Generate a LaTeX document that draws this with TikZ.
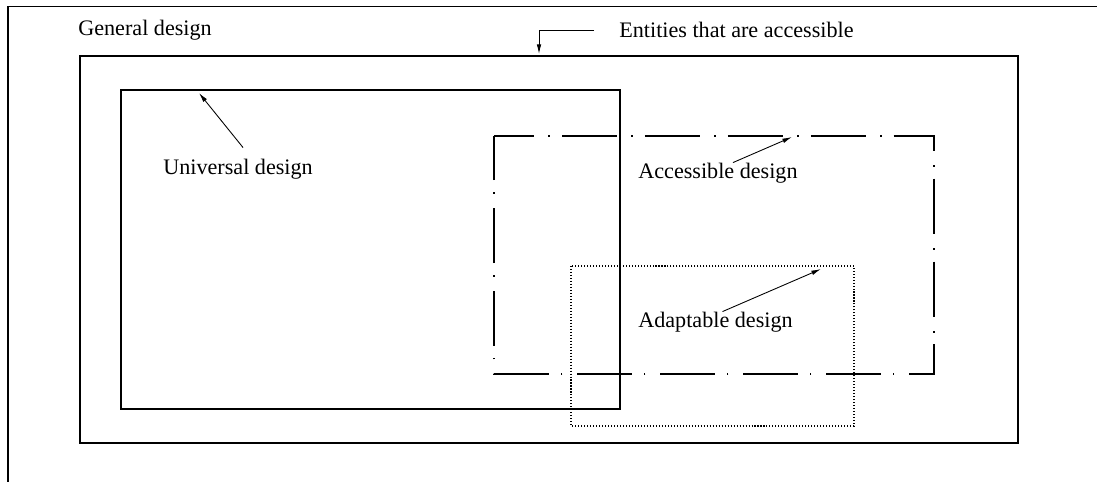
\documentclass[tikz,border=0pt]{standalone}
\usepackage{fontspec}
\setmainfont{Liberation Serif}
\usetikzlibrary{arrows.meta}

\tikzset{
  lbl/.style={inner sep=0pt, anchor=west, font=\fontsize{12.6}{15}\selectfont},
  box/.style={line width=0.6pt},
  dashdot box/.style={line width=0.6pt,
    dash pattern=on 31.3pt off 8.2pt on 0.9pt off 6.8pt, dash phase=8.5pt},
  dotted box/.style={line width=0.6pt, dash pattern=on 0.6pt off 1.1pt},
  ptr/.style={line width=0.5pt, -{Latex[length=5.5pt,width=2.6pt]}}
}

\begin{document}
\begin{tikzpicture}[x=0.02cm, y=-0.02cm]
    \useasboundingbox (0,0) rectangle (1097,482);

    % Cadre
    \draw[line width=0.7pt] (8,482) -- (8,6.5) -- (1100,6.5);

    % Ensembles
    \draw[box] (80,56) rectangle (1018,443);
    \draw[box] (121,90) rectangle (620,409);
    \draw[dashdot box] (494,136) -- (934,136) -- (934,374) -- (494,374) -- cycle;
    \draw[dotted box] (571,266) rectangle (854,426);

    % Textes
    \node[lbl] (general)    at (78,30)   {General design};
    \node[lbl] (entities)   at (619,30)  {Entities that are accessible};
    \node[lbl] (universal)  at (163,169) {Universal design};
    \node[lbl] (accessible) at (638,173) {Accessible design};
    \node[lbl] (adaptable)  at (638,322) {Adaptable design};

    % Points vises
    \coordinate (entitiestip)   at (539,54);
    \coordinate (universaltip)  at (199,93);
    \coordinate (accessibletip) at (792,137);
    \coordinate (adaptabletip)  at (821,269);

    % Fleches
    \draw[ptr] ([shift={(-25,0)}]entities.west) -| (entitiestip);
    \draw[ptr] ([shift={(5,-11)}]universal.north) -- (universaltip);
    \draw[ptr] ([shift={(15,0)}]accessible.north) -- (accessibletip);
    \draw[ptr] ([shift={(7,0)}]adaptable.north) -- (adaptabletip);
\end{tikzpicture}
\end{document}
